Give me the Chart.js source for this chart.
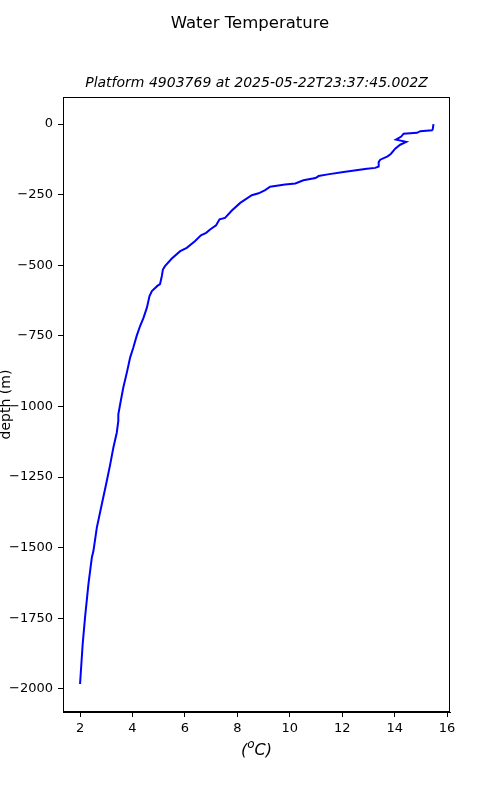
<!DOCTYPE html>
<html>
<head>
<meta charset="utf-8">
<script src="https://cdn.jsdelivr.net/npm/chart.js@4.4.1/dist/chart.umd.min.js"></script>
<style>
  html, body { margin: 0; padding: 0; background: #fff; }
  #wrap { width: 500px; height: 800px; }
</style>
</head>
<body>
<div id="wrap"><canvas id="chart" width="500" height="800"></canvas></div>
<script>
const titleText = 'Water Temperature';
const subtitleText = 'Platform 4903769 at 2025-05-22T23:37:45.002Z';
const yLabelText = 'depth (m)';

// temperature (degC) and depth (m), surface to bottom
const temps = [
  15.48, 15.45, 15.42, 14.98, 14.85, 14.34, 14.25, 14.05, 14.44, 14.21,
  14.02, 13.86, 13.73, 13.45, 13.39, 13.39, 13.26, 12.94, 12.05, 11.45,
  11.10, 10.98, 10.52, 10.21, 9.82, 9.25, 9.06, 8.81, 8.55, 8.11,
  7.79, 7.53, 7.32, 7.19, 6.96, 6.81, 6.61, 6.39, 6.07, 5.82,
  5.50, 5.24, 5.16, 5.12, 5.05, 4.95, 4.74, 4.65, 4.55, 4.42,
  4.29, 4.16, 4.03, 3.91, 3.80, 3.65, 3.53, 3.46, 3.46, 3.40,
  3.27, 3.15, 3.02, 2.83, 2.64, 2.51, 2.45, 2.32, 2.19, 2.10, 2.00
];
const depths = [
  0, -19, -22, -25, -31, -34, -44, -55, -63, -73,
  -87, -105, -114, -126, -134, -150, -155, -158, -170, -178,
  -184, -191, -199, -210, -214, -222, -234, -245, -252, -279,
  -306, -332, -337, -358, -373, -385, -394, -414, -438, -450,
  -476, -503, -515, -538, -567, -573, -591, -609, -650, -686,
  -715, -750, -792, -827, -874, -933, -992, -1028, -1051, -1093,
  -1146, -1205, -1264, -1346, -1429, -1512, -1535, -1629, -1748, -1842, -1983
];

const xTicks = [2, 4, 6, 8, 10, 12, 14, 16];
const yTicks = [0, -250, -500, -750, -1000, -1250, -1500, -1750, -2000];

const points = temps.map((t, i) => ({ x: t, y: depths[i] }));
const fontFamily = '"DejaVu Sans", sans-serif';

const decorations = {
  id: 'decorations',
  afterDraw(chart) {
    const { ctx, chartArea } = chart;
    ctx.save();
    // axes frame
    ctx.strokeStyle = '#000';
    ctx.lineWidth = 1;
    ctx.strokeRect(chartArea.left + 0.5, chartArea.top + 0.5,
      chartArea.right - chartArea.left - 1, chartArea.bottom - chartArea.top - 1);

    ctx.fillStyle = '#000';
    ctx.textAlign = 'center';
    ctx.textBaseline = 'middle';
    ctx.font = '16.5px ' + fontFamily;
    ctx.fillText(titleText, 250, 24);

    const cx = (chartArea.left + chartArea.right) / 2;
    ctx.font = 'italic 14px ' + fontFamily;
    ctx.fillText(subtitleText, cx, 83);

    // x label: (oC) with superscript o
    ctx.font = 'italic 12px ' + fontFamily;
    const wo = ctx.measureText('o').width;
    ctx.font = 'italic 16px ' + fontFamily;
    const wa = ctx.measureText('(').width, wc = ctx.measureText('C)').width;
    const x0 = cx - (wa + wo + wc) / 2;
    ctx.textAlign = 'left';
    ctx.fillText('(', x0, 751);
    ctx.font = 'italic 12px ' + fontFamily;
    ctx.fillText('o', x0 + wa, 745);
    ctx.font = 'italic 16px ' + fontFamily;
    ctx.fillText('C)', x0 + wa + wo, 751);

    // y label
    ctx.font = '14px ' + fontFamily;
    ctx.translate(6, (chartArea.top + chartArea.bottom) / 2);
    ctx.rotate(-Math.PI / 2);
    ctx.textAlign = 'center';
    ctx.fillText(yLabelText, 0, 0);
    ctx.restore();
  }
};

new Chart(document.getElementById('chart'), {
  type: 'scatter',
  data: {
    datasets: [{
      data: points,
      showLine: true,
      borderColor: '#0000ff',
      borderWidth: 2,
      pointRadius: 0,
      tension: 0,
      fill: false
    }]
  },
  options: {
    responsive: false,
    animation: false,
    layout: { padding: { top: 97, right: 50, left: 0, bottom: 0 } },
    plugins: {
      legend: { display: false },
      tooltip: { enabled: false }
    },
    scales: {
      x: {
        type: 'linear',
        min: 1.35,
        max: 16.11,
        afterFit: (s) => { s.height = 88; },
        afterBuildTicks: (s) => { s.ticks = xTicks.map(v => ({ value: v })); },
        grid: { drawOnChartArea: false, drawTicks: true, tickLength: 5, color: '#000' },
        border: { display: true, color: '#000' },
        ticks: {
          color: '#000',
          padding: 4,
          maxRotation: 0,
          font: { family: fontFamily, size: 13 },
          callback: (v) => String(v)
        }
      },
      y: {
        type: 'linear',
        min: -2082,
        max: 96,
        afterFit: (s) => { s.width = 63; },
        afterBuildTicks: (s) => { s.ticks = yTicks.map(v => ({ value: v })); },
        grid: { drawOnChartArea: false, drawTicks: true, tickLength: 5, color: '#000' },
        border: { display: true, color: '#000' },
        ticks: {
          color: '#000',
          padding: 5,
          font: { family: fontFamily, size: 13 },
          callback: (v) => (v < 0 ? '\u2212' + Math.abs(v) : String(v))
        }
      }
    }
  },
  plugins: [decorations]
});
</script>
</body>
</html>
